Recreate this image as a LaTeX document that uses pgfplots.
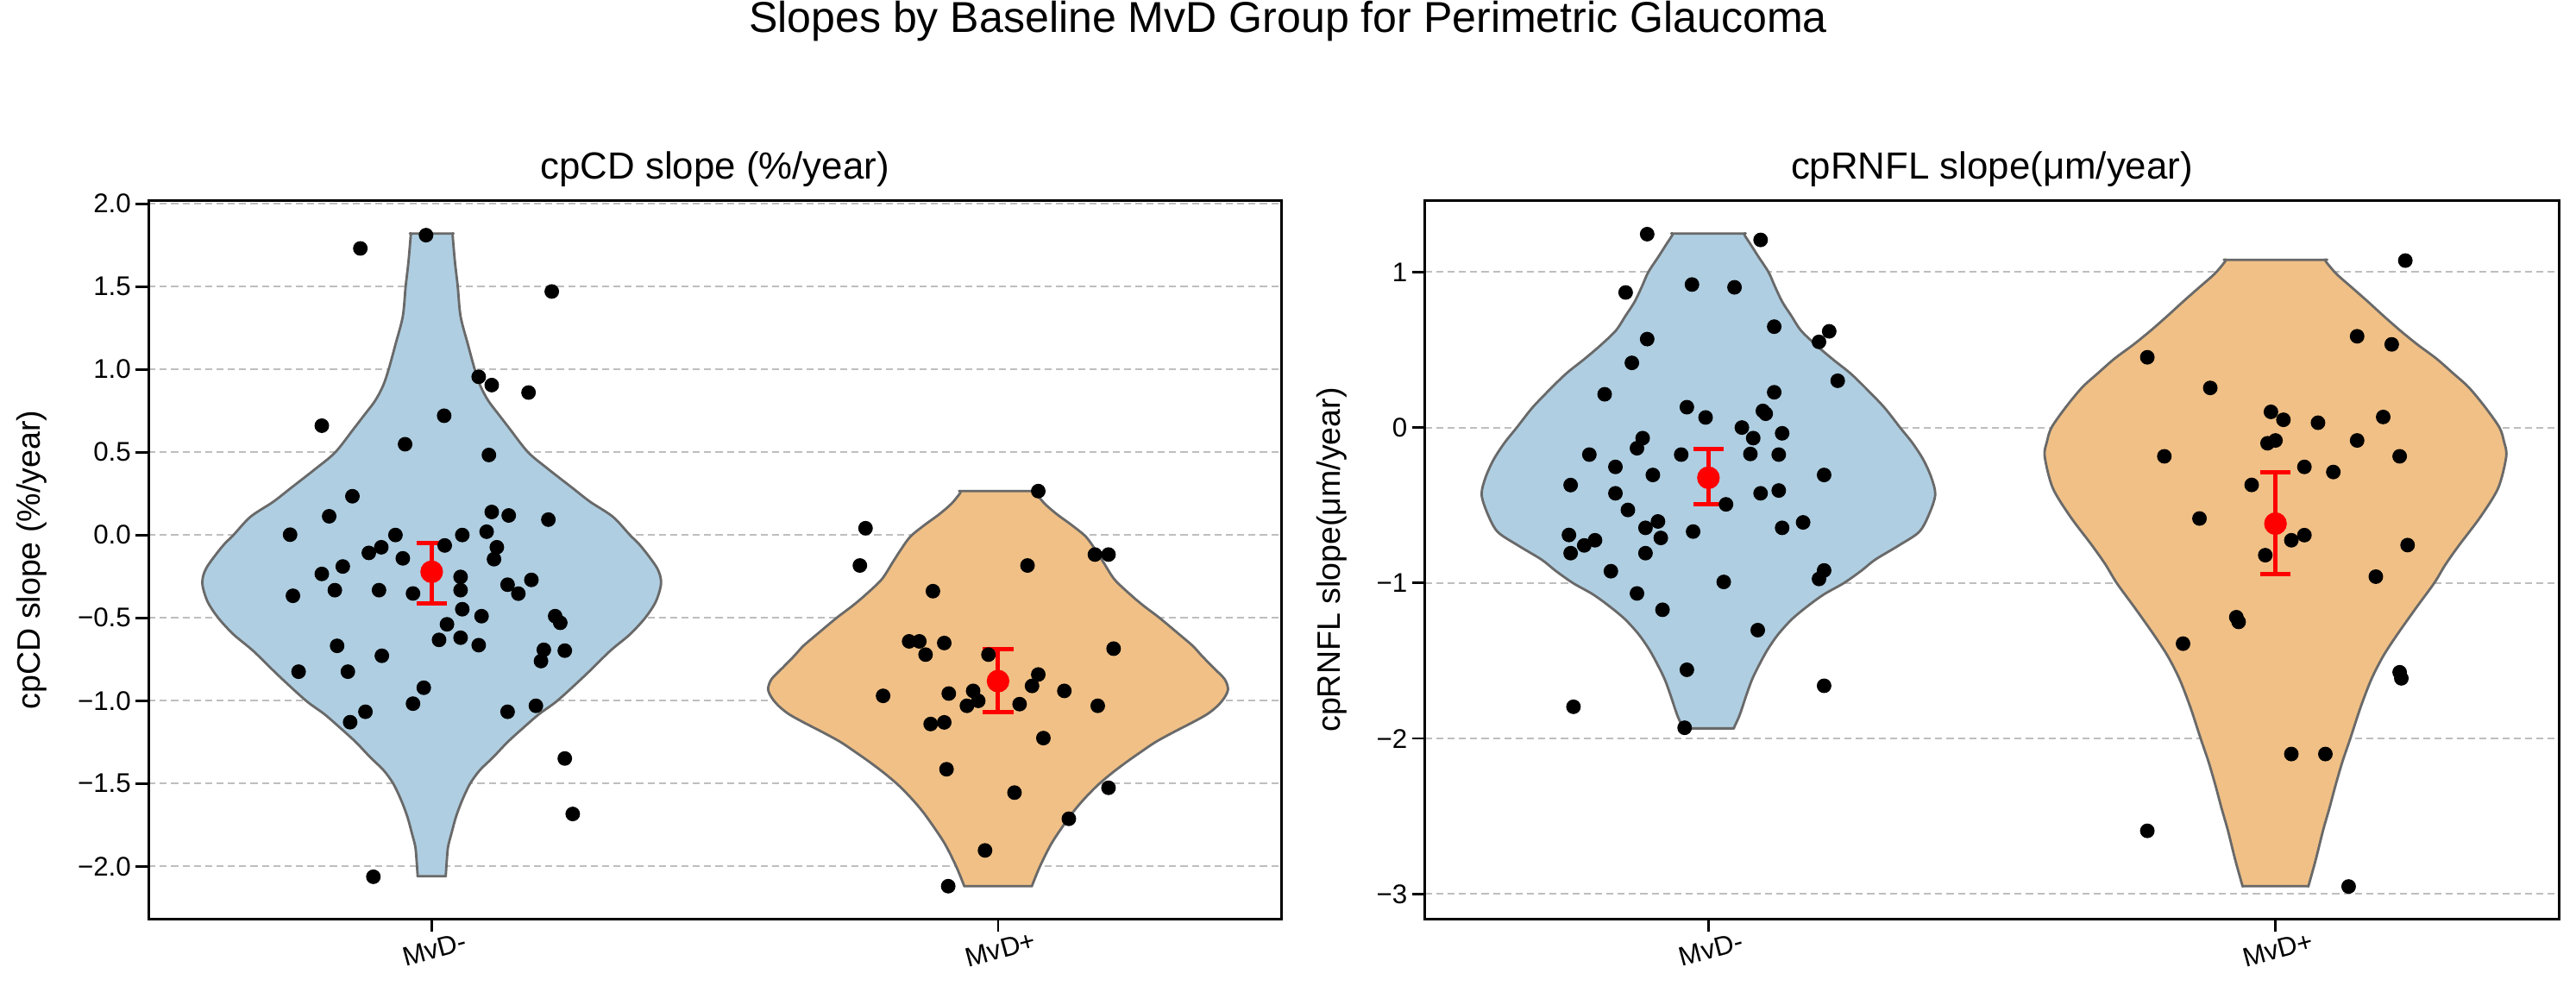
\documentclass[border=0pt]{standalone}
\usepackage{fontspec}
\setmainfont{Liberation Sans}
\usepackage{pgfplots}
\usepackage{pgfplotstable}
\pgfplotsset{compat=1.18}

\definecolor{vblue}{RGB}{175,206,225}
\definecolor{vorange}{RGB}{240,192,134}
\definecolor{vgray}{RGB}{105,105,105}
\definecolor{gridgray}{RGB}{190,190,190}

% violin outlines: y, half width w, side s (+1 right edge going up, -1 left edge going down)
\pgfplotstableread{
y w s
-2.06 0.025 1
-2.048 0.025 1
-1.95 0.027 1
-1.88 0.029 1
-1.80 0.035 1
-1.70 0.043 1
-1.60 0.054 1
-1.50 0.068 1
-1.42 0.085 1
-1.34 0.109 1
-1.25 0.134 1
-1.16 0.163 1
-1.08 0.190 1
-1.00 0.222 1
-0.85 0.270 1
-0.70 0.315 1
-0.60 0.350 1
-0.50 0.377 1
-0.40 0.396 1
-0.29 0.405 1
-0.20 0.398 1
-0.07 0.370 1
0.00 0.350 1
0.11 0.320 1
0.20 0.280 1
0.28 0.250 1
0.40 0.205 1
0.50 0.170 1
0.64 0.138 1
0.72 0.120 1
0.81 0.100 1
0.90 0.086 1
1.00 0.076 1
1.15 0.064 1
1.32 0.051 1
1.50 0.046 1
1.65 0.041 1
1.808 0.037 1
1.82 0.037 1
1.82 0.037 0.9
1.82 0.037 -0.9
1.82 0.037 -1
1.808 0.037 -1
1.65 0.041 -1
1.50 0.046 -1
1.32 0.051 -1
1.15 0.064 -1
1.00 0.076 -1
0.90 0.086 -1
0.81 0.100 -1
0.72 0.120 -1
0.64 0.138 -1
0.50 0.170 -1
0.40 0.205 -1
0.28 0.250 -1
0.20 0.280 -1
0.11 0.320 -1
0.00 0.350 -1
-0.07 0.370 -1
-0.20 0.398 -1
-0.29 0.405 -1
-0.40 0.396 -1
-0.50 0.377 -1
-0.60 0.350 -1
-0.70 0.315 -1
-0.85 0.270 -1
-1.00 0.222 -1
-1.08 0.190 -1
-1.16 0.163 -1
-1.25 0.134 -1
-1.34 0.109 -1
-1.42 0.085 -1
-1.50 0.068 -1
-1.60 0.054 -1
-1.70 0.043 -1
-1.80 0.035 -1
-1.88 0.029 -1
-1.95 0.027 -1
-2.048 0.025 -1
-2.06 0.025 -1
}\VLa
\pgfplotstableread{
y w s
-2.12 0.060 1
-2.108 0.061 1
-2.00 0.074 1
-1.87 0.093 1
-1.77 0.112 1
-1.67 0.133 1
-1.59 0.153 1
-1.51 0.176 1
-1.44 0.200 1
-1.37 0.227 1
-1.31 0.252 1
-1.25 0.278 1
-1.19 0.310 1
-1.13 0.344 1
-1.08 0.370 1
-1.03 0.388 1
-0.98 0.400 1
-0.93 0.406 1
-0.87 0.400 1
-0.80 0.380 1
-0.73 0.360 1
-0.67 0.344 1
-0.60 0.320 1
-0.50 0.285 1
-0.43 0.258 1
-0.37 0.237 1
-0.27 0.206 1
-0.17 0.187 1
-0.09 0.172 1
-0.01 0.155 1
0.06 0.130 1
0.125 0.104 1
0.19 0.082 1
0.253 0.067 1
0.265 0.066 1
0.265 0.066 0.9
0.265 0.066 -0.9
0.265 0.066 -1
0.253 0.067 -1
0.19 0.082 -1
0.125 0.104 -1
0.06 0.130 -1
-0.01 0.155 -1
-0.09 0.172 -1
-0.17 0.187 -1
-0.27 0.206 -1
-0.37 0.237 -1
-0.43 0.258 -1
-0.50 0.285 -1
-0.60 0.320 -1
-0.67 0.344 -1
-0.73 0.360 -1
-0.80 0.380 -1
-0.87 0.400 -1
-0.93 0.406 -1
-0.98 0.400 -1
-1.03 0.388 -1
-1.08 0.370 -1
-1.13 0.344 -1
-1.19 0.310 -1
-1.25 0.278 -1
-1.31 0.252 -1
-1.37 0.227 -1
-1.44 0.200 -1
-1.51 0.176 -1
-1.59 0.153 -1
-1.67 0.133 -1
-1.77 0.112 -1
-1.87 0.093 -1
-2.00 0.074 -1
-2.108 0.061 -1
-2.12 0.060 -1
}\VLb
\pgfplotstableread{
y w s
-1.935 0.045 1
-1.923 0.046 1
-1.85 0.055 1
-1.72 0.067 1
-1.62 0.077 1
-1.53 0.089 1
-1.43 0.104 1
-1.33 0.123 1
-1.23 0.148 1
-1.14 0.178 1
-1.07 0.205 1
-1.00 0.239 1
-0.92 0.270 1
-0.85 0.294 1
-0.76 0.335 1
-0.67 0.372 1
-0.55 0.390 1
-0.43 0.400 1
-0.32 0.393 1
-0.207 0.379 1
-0.10 0.360 1
0.00 0.338 1
0.13 0.310 1
0.255 0.277 1
0.35 0.250 1
0.44 0.219 1
0.53 0.190 1
0.625 0.163 1
0.72 0.146 1
0.81 0.130 1
0.91 0.117 1
1.00 0.106 1
1.10 0.088 1
1.18 0.074 1
1.236 0.064 1
1.248 0.063 1
1.248 0.063 0.9
1.248 0.063 -0.9
1.248 0.063 -1
1.236 0.064 -1
1.18 0.074 -1
1.10 0.088 -1
1.00 0.106 -1
0.91 0.117 -1
0.81 0.130 -1
0.72 0.146 -1
0.625 0.163 -1
0.53 0.190 -1
0.44 0.219 -1
0.35 0.250 -1
0.255 0.277 -1
0.13 0.310 -1
0.00 0.338 -1
-0.10 0.360 -1
-0.207 0.379 -1
-0.32 0.393 -1
-0.43 0.400 -1
-0.55 0.390 -1
-0.67 0.372 -1
-0.76 0.335 -1
-0.85 0.294 -1
-0.92 0.270 -1
-1.00 0.239 -1
-1.07 0.205 -1
-1.14 0.178 -1
-1.23 0.148 -1
-1.33 0.123 -1
-1.43 0.104 -1
-1.53 0.089 -1
-1.62 0.077 -1
-1.72 0.067 -1
-1.85 0.055 -1
-1.923 0.046 -1
-1.935 0.045 -1
}\VRa
\pgfplotstableread{
y w s
-2.95 0.058 1
-2.938 0.059 1
-2.78 0.071 1
-2.59 0.084 1
-2.45 0.095 1
-2.30 0.106 1
-2.15 0.118 1
-2.00 0.132 1
-1.80 0.150 1
-1.62 0.169 1
-1.47 0.190 1
-1.33 0.215 1
-1.16 0.248 1
-1.00 0.280 1
-0.88 0.300 1
-0.756 0.324 1
-0.572 0.362 1
-0.387 0.393 1
-0.185 0.407 1
-0.09 0.403 1
0.00 0.395 1
0.13 0.370 1
0.258 0.341 1
0.35 0.313 1
0.443 0.284 1
0.535 0.250 1
0.627 0.219 1
0.72 0.190 1
0.81 0.163 1
0.90 0.135 1
0.99 0.107 1
1.067 0.089 1
1.079 0.0875 1
1.079 0.0875 0.9
1.079 0.0875 -0.9
1.079 0.0875 -1
1.067 0.089 -1
0.99 0.107 -1
0.90 0.135 -1
0.81 0.163 -1
0.72 0.190 -1
0.627 0.219 -1
0.535 0.250 -1
0.443 0.284 -1
0.35 0.313 -1
0.258 0.341 -1
0.13 0.370 -1
0.00 0.395 -1
-0.09 0.403 -1
-0.185 0.407 -1
-0.387 0.393 -1
-0.572 0.362 -1
-0.756 0.324 -1
-0.88 0.300 -1
-1.00 0.280 -1
-1.16 0.248 -1
-1.33 0.215 -1
-1.47 0.190 -1
-1.62 0.169 -1
-1.80 0.150 -1
-2.00 0.132 -1
-2.15 0.118 -1
-2.30 0.106 -1
-2.45 0.095 -1
-2.59 0.084 -1
-2.78 0.071 -1
-2.938 0.059 -1
-2.95 0.058 -1
}\VRb

% jittered points
\pgfplotstableread{
x y
-0.010 1.81
-0.126 1.73
0.212 1.47
0.083 0.955
0.106 0.905
0.171 0.86
-0.194 0.66
0.022 0.72
-0.047 0.548
0.101 0.483
-0.140 0.234
-0.181 0.113
0.106 0.139
0.136 0.118
0.206 0.093
-0.250 0.002
-0.064 0.0
0.054 0.0
0.097 0.02
0.023 -0.063
0.115 -0.074
-0.089 -0.074
-0.111 -0.108
-0.051 -0.141
0.110 -0.146
-0.157 -0.19
-0.194 -0.235
0.051 -0.253
0.176 -0.271
0.134 -0.30
-0.171 -0.333
-0.093 -0.333
-0.033 -0.353
0.051 -0.333
0.153 -0.354
-0.245 -0.367
0.054 -0.448
0.088 -0.49
0.218 -0.49
0.227 -0.53
0.027 -0.539
0.013 -0.633
0.051 -0.62
0.083 -0.665
-0.167 -0.669
0.198 -0.693
0.235 -0.698
0.193 -0.761
-0.088 -0.729
-0.235 -0.825
-0.148 -0.825
-0.014 -0.922
-0.033 -1.018
0.184 -1.031
-0.117 -1.067
0.134 -1.067
-0.144 -1.13
0.235 -1.349
0.249 -1.684
-0.103 -2.063
}\PLa
\pgfplotstableread{
x y
1.071 0.265
0.766 0.041
0.756 -0.184
1.171 -0.118
1.195 -0.118
1.052 -0.184
0.885 -0.339
0.843 -0.642
0.861 -0.642
0.905 -0.652
0.872 -0.722
0.983 -0.722
1.204 -0.686
1.071 -0.842
1.060 -0.911
0.797 -0.971
0.913 -0.957
0.956 -0.941
0.965 -1.001
0.945 -1.031
1.038 -1.021
1.117 -0.941
1.176 -1.031
0.881 -1.141
0.905 -1.131
1.080 -1.226
0.909 -1.414
1.195 -1.526
1.029 -1.555
1.125 -1.713
0.977 -1.904
0.912 -2.12
}\PLb
\pgfplotstableread{
x y
-0.108 1.244
0.092 1.207
-0.029 0.92
0.046 0.902
-0.146 0.869
0.116 0.649
0.213 0.619
0.195 0.551
-0.108 0.569
-0.135 0.416
0.228 0.301
-0.183 0.214
0.116 0.227
-0.038 0.131
0.096 0.107
0.101 0.089
-0.005 0.065
0.059 0.0
0.130 -0.037
0.079 -0.068
-0.116 -0.068
-0.126 -0.133
-0.210 -0.174
-0.048 -0.174
0.074 -0.170
0.124 -0.174
-0.164 -0.253
-0.098 -0.305
0.204 -0.305
-0.243 -0.37
-0.164 -0.423
0.092 -0.423
0.124 -0.405
0.031 -0.494
-0.142 -0.530
-0.089 -0.604
-0.111 -0.645
0.167 -0.610
0.130 -0.645
-0.027 -0.669
-0.246 -0.691
-0.200 -0.725
-0.219 -0.758
-0.084 -0.71
-0.243 -0.808
-0.111 -0.808
0.204 -0.919
-0.172 -0.924
0.195 -0.974
0.027 -0.993
-0.126 -1.067
-0.081 -1.172
0.087 -1.303
-0.038 -1.558
0.204 -1.661
-0.238 -1.796
-0.042 -1.931
}\PRa
\pgfplotstableread{
x y
1.229 1.074
1.144 0.587
1.205 0.535
0.774 0.452
0.885 0.255
0.992 0.101
1.014 0.05
1.075 0.031
1.190 0.068
1.000 -0.083
0.986 -0.101
1.144 -0.083
0.804 -0.185
1.219 -0.185
1.051 -0.253
1.102 -0.286
0.958 -0.369
0.866 -0.585
1.051 -0.692
1.028 -0.725
1.233 -0.756
0.982 -0.821
1.177 -0.959
0.931 -1.22
0.935 -1.25
0.837 -1.39
1.219 -1.574
1.222 -1.613
1.028 -2.10
1.088 -2.10
0.774 -2.594
1.129 -2.952
}\PRb

% group means and error bar lengths
\pgfplotstableread{
x y ep em
0 -0.222 0.175 0.190
1 -0.882 0.194 0.185
}\MLt
\pgfplotstableread{
x y ep em
0 -0.323 0.184 0.171
1 -0.618 0.332 0.323
}\MRt

\pgfplotsset{
  vio/.style={
    scale only axis, width=419.5pt, height=265.9pt,
    xmin=-0.5, xmax=1.5, xtick={0,1}, xticklabels={MvD-,MvD+},
    xtick pos=left, ytick pos=left, tick align=outside,
    major tick length=4.8pt,
    major tick style={black, line width=0.9pt},
    axis line style={black, line width=1pt},
    ymajorgrids,
    major grid style={gridgray, line width=0.6pt, dash pattern=on 2.6pt off 1.6pt},
    tick label style={font=\fontsize{10}{12}\selectfont},
    xticklabel style={yshift=-3pt, rotate=15, anchor=north, inner sep=0pt},
    yticklabel style={xshift=-1.5pt, anchor=east, inner sep=0pt},
  },
  pts/.style={only marks, mark=*, mark size=2.5pt, mark options={fill=black, draw=black}},
  violin/.style={draw=vgray, line width=0.9pt, smooth, tension=0.5, line join=round},
  means/.style={red, only marks, mark=*, mark size=4pt,
    error bars/.cd, y dir=both, y explicit,
    error bar style={line width=1.6pt, red},
    error mark options={rotate=90, mark size=5.7pt, line width=1.6pt, red}},
}

\begin{document}
\begin{tikzpicture}
\path[use as bounding box] (0pt,0pt) rectangle (954pt,364.9pt);
\node[anchor=base, font=\fontsize{16}{19}\selectfont] at (477pt,353pt) {Slopes by Baseline MvD Group for Perimetric Glaucoma};

\begin{axis}[vio, name=L, at={(55pt,24.6pt)}, anchor=south west,
  ymin=-2.317, ymax=2.017,
  ytick={-2,-1.5,-1,-0.5,0,0.5,1,1.5,2},
  yticklabels={−2.0,−1.5,−1.0,−0.5,0.0,0.5,1.0,1.5,2.0}]
\addplot[violin, fill=vblue] table[x expr=\thisrow{s}*\thisrow{w}, y=y] {\VLa} -- cycle;
\addplot[violin, fill=vorange] table[x expr=1+\thisrow{s}*\thisrow{w}, y=y] {\VLb} -- cycle;
\addplot[pts] table {\PLa};
\addplot[pts] table {\PLb};
\addplot[means] table[x=x, y=y, y error plus=ep, y error minus=em] {\MLt};
\end{axis}

\begin{axis}[vio, name=R, at={(527.7pt,24.6pt)}, anchor=south west, width=420pt,
  ymin=-3.16, ymax=1.458,
  ytick={-3,-2,-1,0,1},
  yticklabels={−3,−2,−1,0,1}]
\addplot[violin, fill=vblue] table[x expr=\thisrow{s}*\thisrow{w}, y=y] {\VRa} -- cycle;
\addplot[violin, fill=vorange] table[x expr=1+\thisrow{s}*\thisrow{w}, y=y] {\VRb} -- cycle;
\addplot[pts] table {\PRa};
\addplot[pts] table {\PRb};
\addplot[means] table[x=x, y=y, y error plus=ep, y error minus=em] {\MRt};
\end{axis}

\node[anchor=base, font=\fontsize{14}{17}\selectfont] at ([yshift=8.2pt]L.north) {cpCD slope (\%/year)};
\node[anchor=base, font=\fontsize{14}{17}\selectfont] at ([yshift=8.2pt]R.north) {cpRNFL slope(μm/year)};
\node[rotate=90, anchor=south, inner sep=0pt, font=\fontsize{12}{14}\selectfont] at ([xshift=-37.4pt]L.west) {cpCD slope (\%/year)};
\node[rotate=90, anchor=south, inner sep=0pt, font=\fontsize{12}{14}\selectfont] at ([xshift=-28.6pt]R.west) {cpRNFL slope(μm/year)};
\end{tikzpicture}
\end{document}
